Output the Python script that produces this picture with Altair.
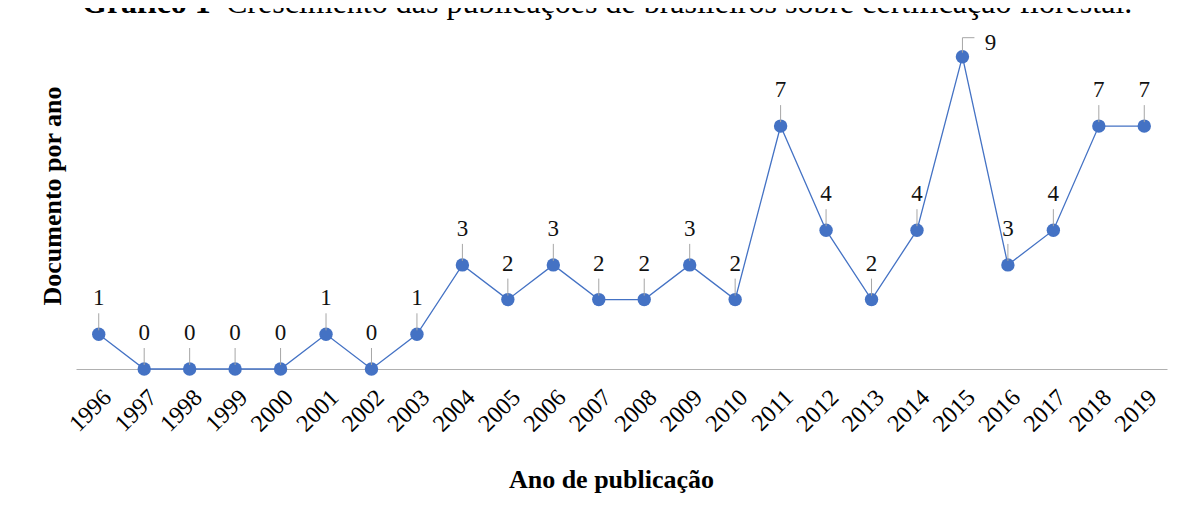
import altair as alt
import pandas as pd

years = [str(y) for y in range(1996, 2020)]
docs = [1, 0, 0, 0, 0, 1, 0, 1, 3, 2, 3, 2, 2, 3, 2, 7, 4, 2, 4, 9, 3, 4, 7, 7]

title_bold = ["Gráfico 1 –"]
title_rest = ["Crescimento das publicações de brasileiros sobre certificação florestal."]
x_title = "Ano de publicação"
y_title = "Documento por ano"

df = pd.DataFrame({"ano": years, "docs": docs})
tdf = pd.DataFrame({"bold": title_bold, "rest": title_rest})

FONT = "Liberation Serif"
BLUE = "#4472C4"

x = alt.X(
    "ano:O",
    sort=years,
    scale=alt.Scale(type="point", padding=0.5),
    axis=alt.Axis(
        title=x_title,
        labelAngle=-45,
        labelFont=FONT,
        labelFontSize=24,
        labelColor="#000000",
        labelPadding=16,
        ticks=False,
        grid=False,
        domainColor="#b0b0b0",
        domainWidth=1,
        titleFont=FONT,
        titleFontSize=26,
        titleFontWeight="bold",
        titleColor="#000000",
        titleBaseline="alphabetic",
        titleY=118,
        titleX=535,
    ),
)
y = alt.Y(
    "docs:Q",
    scale=alt.Scale(domain=[0, 10], nice=False),
    axis=alt.Axis(
        title=y_title,
        labels=False,
        ticks=False,
        domain=False,
        grid=False,
        titleFont=FONT,
        titleFontSize=26,
        titleFontWeight="bold",
        titleColor="#000000",
        titleBaseline="alphabetic",
        titleX=-16,
    ),
)

base = alt.Chart(df).encode(x=x, y=y)
is_max = "datum.docs == datum.maxdocs"

line = base.mark_line(color=BLUE, strokeWidth=1.3)
pts = base.mark_circle(color=BLUE, size=180, opacity=1)

regular = base.transform_joinaggregate(maxdocs="max(docs)").transform_filter("datum.docs < datum.maxdocs")
top = base.transform_joinaggregate(maxdocs="max(docs)").transform_filter(is_max)

leaders = regular.mark_rule(color="#a6a6a6", strokeWidth=1, yOffset=-4, y2Offset=-21).encode(y2="docs:Q")
labels = regular.mark_text(
    font=FONT, fontSize=23, color="#111111", dy=-36, baseline="middle", align="center"
).encode(text="docs:Q")

top_leader_v = top.mark_rule(color="#a6a6a6", strokeWidth=1, yOffset=-4, y2Offset=-19).encode(y2="docs:Q")
top_leader_h = top.mark_rule(color="#a6a6a6", strokeWidth=1, yOffset=-19, y2Offset=-19, xOffset=0, x2Offset=12).encode(
    x2="ano:O", y2="docs:Q"
)
top_label = top.mark_text(
    font=FONT, fontSize=23, color="#111111", dx=28, dy=-14, baseline="middle", align="center"
).encode(text="docs:Q")

t1 = alt.Chart(tdf).mark_text(
    font=FONT, fontSize=32, fontWeight="bold", color="#000000", align="left", baseline="alphabetic"
).encode(text="bold:N", x=alt.value(6), y=alt.value(-9))
t2 = alt.Chart(tdf).mark_text(
    font=FONT, fontSize=32, color="#000000", align="left", baseline="alphabetic"
).encode(text="rest:N", x=alt.value(150), y=alt.value(-9))

chart = (
    alt.layer(line, pts, leaders, labels, top_leader_v, top_leader_h, top_label, t1, t2)
    .properties(
        width=1091,
        height=347,
        background="white",
        autosize=alt.AutoSizeParams(type="none"),
        padding={"left": 68, "top": 14, "right": 5, "bottom": 128},
    )
    .configure_view(stroke=None, strokeWidth=0)
)

chart.save("out.html", embed_options={"renderer": "svg", "actions": False})
